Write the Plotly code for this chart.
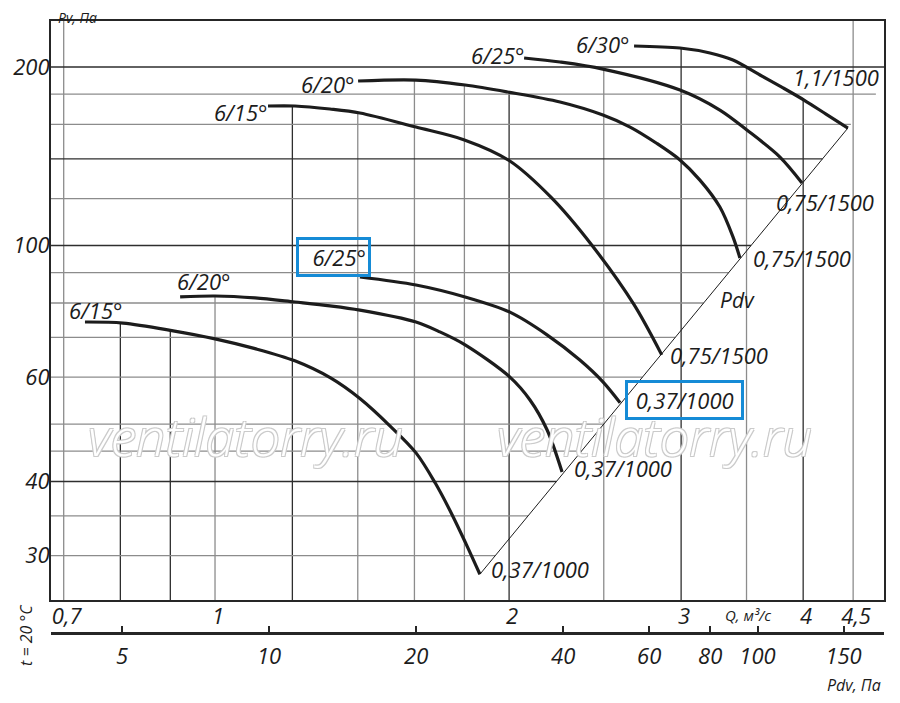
import numpy as np
import plotly.graph_objects as go

# Характеристики Pv(Q): Q в м³/с, Pv в Па
# нижняя группа: 0,37 кВт / 1000 об/мин
Q_LOW_15 = [0.736, 0.805, 0.906, 1.0, 1.099, 1.207, 1.313, 1.407, 1.511, 1.606, 1.680, 1.748, 1.807, 1.867]
PV_LOW_15 = [74.3, 74.0, 71.8, 69.6, 67.0, 63.9, 59.8, 55.2, 49.6, 44.7, 39.8, 35.2, 31.4, 27.9]
Q_LOW_20 = [0.921, 1.0, 1.099, 1.207, 1.311, 1.407, 1.606, 1.699, 1.803, 2.004, 2.101, 2.187, 2.266]
PV_LOW_20 = [81.9, 82.2, 81.6, 80.3, 79.1, 77.8, 74.3, 71.5, 68.0, 60.0, 54.9, 48.9, 41.5]
Q_LOW_25 = [1.407, 1.606, 1.803, 2.004, 2.187, 2.363, 2.495, 2.598]
PV_LOW_25 = [88.5, 85.8, 81.9, 77.2, 70.7, 64.1, 58.9, 54.3]
# верхняя группа: 0,75 и 1,1 кВт / 1500 об/мин
Q_HIGH_15 = [1.133, 1.207, 1.311, 1.407, 1.606, 1.8, 2.0, 2.211, 2.430, 2.682, 2.866]
PV_HIGH_15 = [171.9, 171.9, 169.9, 167.3, 158.4, 150.7, 139.1, 120.3, 100.2, 79.7, 65.4]
Q_HIGH_20 = [1.401, 1.606, 1.803, 1.994, 2.255, 2.495, 2.660, 2.834, 2.992, 3.136, 3.287, 3.390, 3.446]
PV_HIGH_20 = [189.4, 190.1, 186.5, 181.5, 174.6, 166.0, 158.4, 148.6, 139.4, 128.9, 116.1, 103.4, 95.3]
Q_HIGH_25 = [2.072, 2.255, 2.495, 2.992, 3.287, 3.503, 3.787, 3.989]
PV_HIGH_25 = [207.1, 203.9, 198.4, 182.9, 169.2, 156.6, 141.0, 127.5]
Q_HIGH_30 = [2.685, 2.992, 3.211, 3.390, 3.613, 3.815, 4.008, 4.221, 4.445]
PV_HIGH_30 = [217.0, 215.3, 211.2, 205.5, 193.9, 184.4, 175.9, 166.6, 157.8]

ANGLES = ["6/15°", "6/20°", "6/25°", "6/15°", "6/20°", "6/25°", "6/30°"]
MOTORS = ["0,37/1000", "0,37/1000", "0,37/1000", "0,75/1500", "0,75/1500", "0,75/1500", "1,1/1500"]

# сетка и подписи осей
GRID_Q = [0.7, 0.8, 0.9, 1, 1.2, 1.4, 1.6, 1.8, 2, 2.5, 3, 3.5, 4, 4.5]
GRID_Q_DARK = [0.8, 0.9, 1.2, 2, 3, 4]
GRID_PV = [30, 35, 40, 45, 50, 60, 70, 80, 90, 100, 120, 140, 160, 180, 200]
GRID_PV_DARK = [40, 100, 140, 200]
Q_TICKS = [0.7, 1, 2, 3, 4, 4.5]
Q_TICKTEXT = ["0,7", "1", "2", "3", "4", "4,5"]
PV_TICKS = [30, 40, 60, 100, 200]
PDV_TICKS = [5, 10, 20, 40, 60, 80, 100, 150]
PDV_COEF = 7.75  # Pdv = k * Q^2

curves = [
    (Q_LOW_15, PV_LOW_15), (Q_LOW_20, PV_LOW_20), (Q_LOW_25, PV_LOW_25),
    (Q_HIGH_15, PV_HIGH_15), (Q_HIGH_20, PV_HIGH_20), (Q_HIGH_25, PV_HIGH_25),
    (Q_HIGH_30, PV_HIGH_30),
]

# оформление (страница браузера сдвигает график на 8 px, поэтому поля меньше)
X_RANGE = [-0.1679, 0.6848]
Y_RANGE = [1.4022, 2.3786]
ink = "#1c1c1c"
grid_dark = "#2e2e2e"
grid_gray = "#8c8c8c"
blue = "#158bd6"
font_family = "Open Sans, DejaVu Sans, sans-serif"
label_size = 22
nb = "\u00a0"

# сдвиги подписей (xanchor, xshift, yshift) относительно начала/конца кривой
start_pos = [("center", 11, 12), ("center", 24, 16), ("center", -26, 20),
             ("right", 2, -6), ("right", -1, -3), ("right", 3, 3), ("right", -2, 2)]
end_pos = [("left", 10, 5), ("left", 11, 4), ("left", 5, 3),
           ("left", 7, 0), ("left", 12, 0), ("left", -27, -19), ("left", -56, 51)]
boxed_start = [False, False, True, False, False, False, False]
boxed_end = [False, False, True, False, False, False, False]

fig = go.Figure()

# линия Pdv через концы крайних кривых
lq1, lp1 = np.log10(Q_LOW_15[-1]), np.log10(PV_LOW_15[-1])
lq2, lp2 = np.log10(Q_HIGH_30[-1]), np.log10(PV_HIGH_30[-1])


def diag_q(lp):
    return lq1 + (lp - lp1) * (lq2 - lq1) / (lp2 - lp1)


# вертикальные линии сетки: снизу до верхней огибающей кривых
for dark in (True, False):
    xs, ys = [], []
    for q in GRID_Q:
        if (q in GRID_Q_DARK) != dark:
            continue
        lq = np.log10(q)
        tops = []
        for cq, cp in curves:
            lcq = np.log10(cq)
            if lcq[0] <= lq <= lcq[-1]:
                tops.append(np.interp(lq, lcq, np.log10(cp)))
        top = max(tops) if tops else Y_RANGE[1]
        xs += [q, q, None]
        ys += [10 ** Y_RANGE[0], 10 ** top, None]
    fig.add_trace(go.Scatter(x=xs, y=ys, mode="lines", hoverinfo="skip",
                             line=dict(color=grid_dark if dark else grid_gray, width=1.3)))

# горизонтальные линии сетки: слева до линии Pdv
for dark in (True, False):
    xs, ys = [], []
    for p in GRID_PV:
        if (p in GRID_PV_DARK) != dark:
            continue
        end = min(diag_q(np.log10(p)), X_RANGE[1])
        xs += [10 ** X_RANGE[0], 10 ** end, None]
        ys += [p, p, None]
    fig.add_trace(go.Scatter(x=xs, y=ys, mode="lines", hoverinfo="skip",
                             line=dict(color=grid_dark if dark else grid_gray, width=1.3)))

# линия Pdv (на второй оси, чтобы та рисовалась)
fig.add_trace(go.Scatter(x=[Q_LOW_15[-1], Q_HIGH_30[-1]], y=[PV_LOW_15[-1], PV_HIGH_30[-1]],
                         xaxis="x2", mode="lines", hoverinfo="skip", line=dict(color=ink, width=1)))

for cq, cp in curves:
    fig.add_trace(go.Scatter(x=cq, y=cp, mode="lines", hoverinfo="skip",
                             line=dict(color=ink, width=3.2, shape="spline", smoothing=0.9)))

annotations = []
label_font = dict(family=font_family, size=label_size, color=ink, style="italic")
for i, (cq, cp) in enumerate(curves):
    anchor, dx, dy = start_pos[i]
    annotations.append(dict(
        text=(nb * 2 + ANGLES[i]) if boxed_start[i] else ANGLES[i],
        x=np.log10(cq[0]), y=np.log10(cp[0]), xref="x", yref="y",
        xanchor=anchor, yanchor="middle", xshift=dx, yshift=dy, showarrow=False,
        font=label_font, borderpad=2,
        bordercolor=blue if boxed_start[i] else "rgba(0,0,0,0)",
        borderwidth=3 if boxed_start[i] else 0,
    ))
    anchor, dx, dy = end_pos[i]
    annotations.append(dict(
        text=(nb + MOTORS[i] + nb) if boxed_end[i] else MOTORS[i],
        x=np.log10(cq[-1]), y=np.log10(cp[-1]), xref="x", yref="y",
        xanchor=anchor, yanchor="middle", xshift=dx, yshift=dy, showarrow=False,
        font=label_font, borderpad=2 if boxed_end[i] else 1,
        bordercolor=blue if boxed_end[i] else "rgba(0,0,0,0)",
        borderwidth=3 if boxed_end[i] else 0,
    ))

small_font = dict(family=font_family, size=16, color=ink, style="italic")
free_text = [
    ("Pdv", 0.8247, 0.5441, 0, dict(family=font_family, size=21, color=ink, style="italic")),
    ("Pv, Па", 0.0324, 1.0057, 0, dict(family=font_family, size=14, color=ink, style="italic")),
    ("Q, м³/с", 0.8367, 0.0294, 0, dict(family=font_family, size=15, color=ink, style="italic")),
    ("Pdv, Па", 0.964, -0.085, 0, small_font),
    ("t = 20 °C", -0.030, -0.0033, -90, small_font),
]
for text, px, py, angle, fnt in free_text:
    annotations.append(dict(text=text, x=px, y=py, xref="paper", yref="paper", showarrow=False,
                            xanchor="center", yanchor="middle", textangle=angle, font=fnt))

watermark_font = dict(family=font_family, size=52, color="white", style="italic", weight=300,
                      shadow="1px 1px 0 #cbcbcb, -1px -1px 0 #cbcbcb, 1px -1px 0 #cbcbcb, -1px 1px 0 #cbcbcb")
for wx in (0.2329, 0.7239):
    annotations.append(dict(text="ventilatorry.ru", x=wx, y=0.3219, xref="paper", yref="paper",
                            xanchor="center", yanchor="middle",
                            showarrow=False, font=watermark_font))

tick_font = dict(family=font_family, size=label_size, color=ink, style="italic")
fig.update_layout(
    width=892, height=695,
    margin=dict(l=43, r=16, t=13, b=70, autoexpand=False),
    paper_bgcolor="white", plot_bgcolor="white",
    showlegend=False, hovermode=False,
    annotations=annotations,
    xaxis=dict(type="log", range=X_RANGE, showgrid=False, zeroline=False, automargin=False,
               showline=True, mirror=True, linecolor="#262626", linewidth=2.2,
               tickvals=Q_TICKS, ticktext=Q_TICKTEXT, ticks="", tickfont=tick_font,
               ticklabelshift=3, ticklabelstandoff=-5),
    xaxis2=dict(type="log", range=X_RANGE, overlaying="x", anchor="free", position=0,
                side="bottom", showgrid=False, zeroline=False, automargin=False,
                showline=True, linecolor="#262626", linewidth=2.5,
                tickvals=[np.sqrt(p / PDV_COEF) for p in PDV_TICKS],
                ticktext=[str(p) for p in PDV_TICKS],
                ticks="inside", ticklen=6, tickwidth=1.5, tickcolor="#262626",
                ticklabelstandoff=3, tickfont=tick_font),
    yaxis=dict(type="log", range=Y_RANGE, domain=[0.0539, 1], showgrid=False, zeroline=False,
               automargin=False,
               showline=True, mirror=True, linecolor="#262626", linewidth=2.2,
               tickvals=PV_TICKS, ticktext=[str(p) for p in PV_TICKS], ticks="",
               tickfont=tick_font, ticklabelstandoff=-5),
)

fig.write_html("out.html")
